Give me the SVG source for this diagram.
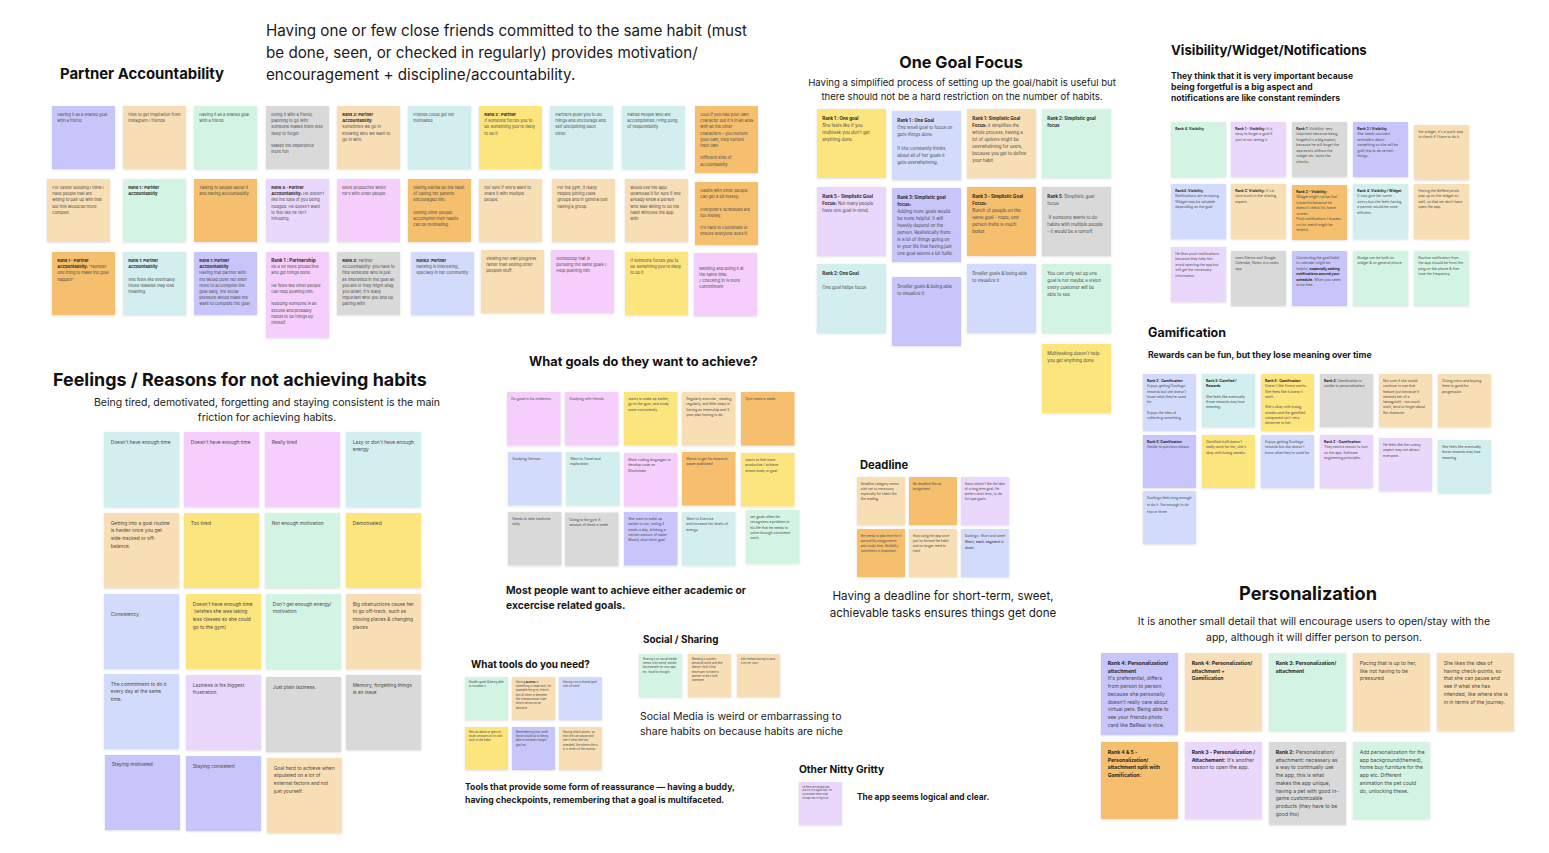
<svg xmlns="http://www.w3.org/2000/svg" width="1549" height="853" viewBox="0 0 1549 853">
<defs>
<filter id="sh" x="-10%" y="-10%" width="130%" height="130%"><feDropShadow dx="0" dy="0.8" stdDeviation="0.8" flood-color="#000" flood-opacity="0.13"/></filter>
<style>
text{font-family:Inter,"Liberation Sans",sans-serif}
rect.n{filter:url(#sh)}
.vi{fill:#C7C5FA}.pw{fill:#D3DBFC}.lo{fill:#F8DEB5}.or{fill:#F5BF6E}.lg{fill:#D3F4E2}.te{fill:#D2EEEE}.gr{fill:#D9D9D9}.ye{fill:#FDE57E}.pk{fill:#F5CEFB}.lp{fill:#E9D8FC}
.t{fill:#4a4a4a}
.b{font-weight:700;fill:#262626}
.h{font-weight:700;fill:#111}
.s{fill:#1a1a1a}
.sb{font-weight:700;fill:#1a1a1a}
.p{font-size:4.1px}.f{font-size:4.85px}.g{font-size:3.45px}.o{font-size:4.4px}.d{font-size:3.2px}.v{font-size:3.5px}.m{font-size:3.45px}.r{font-size:5.1px}.k{font-size:2.8px}.q{font-size:2.3px}
</style>
</defs>
<rect width="1549" height="853" fill="#ffffff"/>
<g id="connectors"/>

<!-- Partner Accountability -->
<g id="partner-header">
<text class="h" x="60" y="79" font-size="14.9">Partner Accountability</text>
<text class="s" x="266" y="36" font-size="15.2"><tspan>Having one or few close friends committed to the same habit (must</tspan><tspan x="266" dy="22">be done, seen, or checked in regularly) provides motivation/</tspan><tspan x="266" dy="22">encouragement + discipline/accountability.</tspan></text>
</g>
<g id="pa-1-1"><rect class="n vi" x="52" y="106" width="63" height="63"/><text class="t p" x="57.3" y="116"><tspan>Having it as a shared goal</tspan><tspan x="57.3" dy="6.2">with a friend</tspan></text></g>
<g id="pa-1-2"><rect class="n lo" x="123" y="106" width="63" height="63"/><text class="t p" x="128.3" y="116"><tspan>tries to get inspiration from</tspan><tspan x="128.3" dy="6.2">instagram / friends</tspan></text></g>
<g id="pa-1-3"><rect class="n lg" x="194" y="106" width="63" height="63"/><text class="t p" x="199.3" y="116"><tspan>Having it as a shared goal</tspan><tspan x="199.3" dy="6.2">with a friend</tspan></text></g>
<g id="pa-1-4"><rect class="n gr" x="266" y="106" width="63" height="63"/><text class="t p" x="271.3" y="116"><tspan>Doing it with a friend,</tspan><tspan x="271.3" dy="6.2">planning to go with</tspan><tspan x="271.3" dy="6.2">someone makes them less</tspan><tspan x="271.3" dy="6.2">likely to forget</tspan><tspan x="271.3" dy="12.4">Makes the experience</tspan><tspan x="271.3" dy="6.2">more fun</tspan></text></g>
<g id="pa-1-5"><rect class="n lo" x="337" y="106" width="63" height="63"/><text class="t p" x="342.3" y="116"><tspan class="b">Rank 3: Partner</tspan><tspan x="342.3" dy="6.2"><tspan class="b">Accountability</tspan>:</tspan><tspan x="342.3" dy="6.2">sometimes we go in</tspan><tspan x="342.3" dy="6.2">knowing who we want to</tspan><tspan x="342.3" dy="6.2">go in with.</tspan></text></g>
<g id="pa-1-6"><rect class="n te" x="408" y="106" width="63" height="63"/><text class="t p" x="413.3" y="116"><tspan>Friends could get her</tspan><tspan x="413.3" dy="6.2">motivated</tspan></text></g>
<g id="pa-1-7"><rect class="n ye" x="479" y="106" width="63" height="63"/><text class="t p" x="484.3" y="116"><tspan class="b">Rank 2 : Partner</tspan><tspan x="484.3" dy="6.2">If someone forces you to</tspan><tspan x="484.3" dy="6.2">do something you're likely</tspan><tspan x="484.3" dy="6.2">to do it.</tspan></text></g>
<g id="pa-1-8"><rect class="n te" x="550" y="106" width="63" height="63"/><text class="t p" x="555.3" y="116"><tspan>Partners push you to do</tspan><tspan x="555.3" dy="6.2">things and encourage and</tspan><tspan x="555.3" dy="6.2">self disciplining each</tspan><tspan x="555.3" dy="6.2">other.</tspan></text></g>
<g id="pa-1-9"><rect class="n te" x="622" y="106" width="63" height="63"/><text class="t p" x="627.3" y="116"><tspan>Paired People who are</tspan><tspan x="627.3" dy="6.2">accomplished / Ping pong</tspan><tspan x="627.3" dy="6.2">of responsibility.</tspan></text></g>
<g id="pa-1-10"><rect class="n or" x="695" y="106" width="63" height="67"/><text class="t p" x="700.3" y="116"><tspan>Cool if you had your own</tspan><tspan x="700.3" dy="6.2">character but it's in an area</tspan><tspan x="700.3" dy="6.2">with all the other</tspan><tspan x="700.3" dy="6.2">characters – you nurture</tspan><tspan x="700.3" dy="6.2">your own, they nurture</tspan><tspan x="700.3" dy="6.2">their own</tspan><tspan x="700.3" dy="12.4">Different kind of</tspan><tspan x="700.3" dy="6.2">accountability</tspan></text></g>

<g id="pa-2-1"><rect class="n lo" x="47" y="179" width="63" height="63"/><text class="t p" x="52.3" y="189"><tspan>For career building I think I</tspan><tspan x="52.3" dy="6.2">have people that are</tspan><tspan x="52.3" dy="6.2">willing to pair up with that</tspan><tspan x="52.3" dy="6.2">but this would be more</tspan><tspan x="52.3" dy="6.2">complex.</tspan></text></g>
<g id="pa-2-2"><rect class="n lg" x="123" y="179" width="63" height="63"/><text class="b p" x="128.3" y="189"><tspan>Rank 1 : Partner</tspan><tspan x="128.3" dy="6.2">Accountability</tspan></text></g>
<g id="pa-2-3"><rect class="n or" x="194" y="179" width="63" height="63"/><text class="t p" x="199.3" y="189"><tspan>Talking to people about it</tspan><tspan x="199.3" dy="6.2">and having accountability</tspan></text></g>
<g id="pa-2-4"><rect class="n lp" x="266" y="179" width="63" height="63"/><text class="t p" x="271.3" y="189"><tspan class="b">Rank 4 - Partner</tspan><tspan x="271.3" dy="6.2"><tspan class="b">Accountability:</tspan> He doesn't</tspan><tspan x="271.3" dy="6.2">like the idea of you being</tspan><tspan x="271.3" dy="6.2">nudged. He doesn't want</tspan><tspan x="271.3" dy="6.2">to feel like he isn't</tspan><tspan x="271.3" dy="6.2">intruding.</tspan></text></g>
<g id="pa-2-5"><rect class="n pk" x="337" y="179" width="63" height="63"/><text class="t p" x="342.3" y="189"><tspan>More productive when</tspan><tspan x="342.3" dy="6.2">he's with other people</tspan></text></g>
<g id="pa-2-6"><rect class="n or" x="408" y="179" width="63" height="63"/><text class="t p" x="413.3" y="189"><tspan>Seeing Karina do the habit</tspan><tspan x="413.3" dy="6.2">of calling her parents</tspan><tspan x="413.3" dy="6.2">encouraged him.</tspan><tspan x="413.3" dy="12.4">Seeing other people</tspan><tspan x="413.3" dy="6.2">accomplish their habits</tspan><tspan x="413.3" dy="6.2">can be motivating.</tspan></text></g>
<g id="pa-2-7"><rect class="n lo" x="479" y="179" width="63" height="63"/><text class="t p" x="484.3" y="189"><tspan>not sure if she'd want to</tspan><tspan x="484.3" dy="6.2">share it with multiple</tspan><tspan x="484.3" dy="6.2">people</tspan></text></g>
<g id="pa-2-8"><rect class="n lo" x="552" y="179" width="63" height="63"/><text class="t p" x="557.3" y="189"><tspan>For the gym, it really</tspan><tspan x="557.3" dy="6.2">helped joining class</tspan><tspan x="557.3" dy="6.2">groups and in general just</tspan><tspan x="557.3" dy="6.2">having a group.</tspan></text></g>
<g id="pa-2-9"><rect class="n lo" x="625" y="179" width="63" height="63"/><text class="t p" x="630.3" y="189"><tspan>would use the app/</tspan><tspan x="630.3" dy="6.2">download it for sure if she</tspan><tspan x="630.3" dy="6.2">already knew a person</tspan><tspan x="630.3" dy="6.2">who was willing to do the</tspan><tspan x="630.3" dy="6.2">habit with/use the app</tspan><tspan x="630.3" dy="6.2">with</tspan></text></g>
<g id="pa-2-10"><rect class="n or" x="695" y="182" width="63" height="63"/><text class="t p" x="700.3" y="192"><tspan>Habits with other people</tspan><tspan x="700.3" dy="6.2">can get a bit messy.</tspan><tspan x="700.3" dy="12.4">Everyone's schedules are</tspan><tspan x="700.3" dy="6.2">too messy.</tspan><tspan x="700.3" dy="12.4">It's hard to coordinate or</tspan><tspan x="700.3" dy="6.2">ensure everyone does it.</tspan></text></g>

<g id="pa-3-1"><rect class="n or" x="52" y="252" width="63" height="63"/><text class="t p" x="57.3" y="262"><tspan class="b">Rank 1 - Partner</tspan><tspan x="57.3" dy="6.2"><tspan class="b">Accountability:</tspan> "Number</tspan><tspan x="57.3" dy="6.2">one thing to make the goal</tspan><tspan x="57.3" dy="6.2">happen"</tspan></text></g>
<g id="pa-3-2"><rect class="n te" x="123" y="252" width="63" height="63"/><text class="t p" x="128.3" y="262"><tspan class="b">Rank 1: Partner</tspan><tspan class="b" x="128.3" dy="6.2">Accountability</tspan><tspan x="128.3" dy="12.4">She feels like eventually</tspan><tspan x="128.3" dy="6.2">those rewards may lose</tspan><tspan x="128.3" dy="6.2">meaning.</tspan></text></g>
<g id="pa-3-3"><rect class="n vi" x="194" y="252" width="63" height="63"/><text class="t p" x="199.3" y="262"><tspan class="b">Rank 1: Partner</tspan><tspan class="b" x="199.3" dy="6.2">Accountability</tspan><tspan x="199.3" dy="6.2">Having that partner with</tspan><tspan x="199.3" dy="6.2">me would push her even</tspan><tspan x="199.3" dy="6.2">more to accomplish the</tspan><tspan x="199.3" dy="6.2">goal daily, the social</tspan><tspan x="199.3" dy="6.2">pressure would make me</tspan><tspan x="199.3" dy="6.2">want to complete the goal</tspan></text></g>
<g id="pa-3-4"><rect class="n pk" x="266" y="252" width="63" height="86"/><text class="t p" x="271.3" y="262"><tspan class="b" font-size="4.6">Rank 1 : Partnership</tspan><tspan x="271.3" dy="6.2">Be a lot more productive</tspan><tspan x="271.3" dy="6.2">and get things done.</tspan><tspan x="271.3" dy="12.4">He feels like other people</tspan><tspan x="271.3" dy="6.2">can help pushing him.</tspan><tspan x="271.3" dy="12.4">Needing someone is an</tspan><tspan x="271.3" dy="6.2">excuse and probably</tspan><tspan x="271.3" dy="6.2">needs to do things by</tspan><tspan x="271.3" dy="6.2">himself.</tspan></text></g>
<g id="pa-3-5"><rect class="n gr" x="337" y="252" width="63" height="63"/><text class="t p" x="342.3" y="262"><tspan><tspan class="b">Rank 3:</tspan> Partner</tspan><tspan x="342.3" dy="6.2">Accountability: you have to</tspan><tspan x="342.3" dy="6.2">find someone who is just</tspan><tspan x="342.3" dy="6.2">as interested in the goal as</tspan><tspan x="342.3" dy="6.2">you are or they might drag</tspan><tspan x="342.3" dy="6.2">you down, it's really</tspan><tspan x="342.3" dy="6.2">important who you end up</tspan><tspan x="342.3" dy="6.2">pairing with</tspan></text></g>
<g id="pa-3-6"><rect class="n pw" x="411" y="252" width="63" height="63"/><text class="t p" x="416.3" y="262"><tspan class="b">Rank3 :Partner</tspan><tspan x="416.3" dy="6.2">Ranking is interesting,</tspan><tspan x="416.3" dy="6.2">specially in her community</tspan></text></g>
<g id="pa-3-7"><rect class="n lo" x="481" y="250" width="63" height="63"/><text class="t p" x="486.3" y="260"><tspan>viewing her own progress</tspan><tspan x="486.3" dy="6.2">rather than seeing other</tspan><tspan x="486.3" dy="6.2">peoples stuff.</tspan></text></g>
<g id="pa-3-8"><rect class="n pk" x="551" y="250" width="63" height="63"/><text class="t p" x="556.3" y="260"><tspan>Somebody that is</tspan><tspan x="556.3" dy="6.2">pursuing the same goals /</tspan><tspan x="556.3" dy="6.2">Help pushing him</tspan></text></g>
<g id="pa-3-9"><rect class="n ye" x="625" y="252" width="63" height="63"/><text class="t p" x="630.3" y="262"><tspan>If someone forces you to</tspan><tspan x="630.3" dy="6.2">do something you're likely</tspan><tspan x="630.3" dy="6.2">to do it</tspan></text></g>
<g id="pa-3-10"><rect class="n pk" x="694" y="253" width="63" height="63"/><text class="t p" x="699.3" y="269.5"><tspan>Meeting and doing it at</tspan><tspan x="699.3" dy="6.2">the same time.</tspan><tspan x="699.3" dy="6.2">/ Checking in is more</tspan><tspan x="699.3" dy="6.2">commitment</tspan></text></g>

<!-- Feelings -->
<g id="feelings-header">
<text class="h" x="53" y="386" font-size="17.9">Feelings / Reasons for not achieving habits</text>
<text class="s" x="267" y="406" font-size="10.5" text-anchor="middle"><tspan>Being tired, demotivated, forgetting and staying consistent is the main</tspan><tspan x="267" dy="15">friction for achieving habits.</tspan></text>
</g>
<g id="fe-1-1"><rect class="n te" x="104" y="432" width="75" height="75"/><text class="t f" x="110.7" y="443.7">Doesn't have enough time</text></g>
<g id="fe-1-2"><rect class="n pk" x="184" y="432" width="75" height="75"/><text class="t f" x="190.7" y="443.7">Doesn't have enough time</text></g>
<g id="fe-1-3"><rect class="n pk" x="265" y="432" width="75" height="75"/><text class="t f" x="271.7" y="443.7">Really tired</text></g>
<g id="fe-1-4"><rect class="n te" x="346" y="432" width="75" height="75"/><text class="t f" x="352.7" y="443.7"><tspan>Lazy or don't have enough</tspan><tspan x="352.7" dy="7.6">energy</tspan></text></g>
<g id="fe-2-1"><rect class="n lo" x="104" y="513" width="75" height="75"/><text class="t f" x="110.7" y="524.7"><tspan>Getting into a goal routine</tspan><tspan x="110.7" dy="7.6">is harder once you get</tspan><tspan x="110.7" dy="7.6">side-tracked or off-</tspan><tspan x="110.7" dy="7.6">balance.</tspan></text></g>
<g id="fe-2-2"><rect class="n ye" x="184" y="513" width="75" height="75"/><text class="t f" x="190.7" y="524.7">Too tired</text></g>
<g id="fe-2-3"><rect class="n lg" x="265" y="513" width="75" height="75"/><text class="t f" x="271.7" y="524.7">Not enough motivation</text></g>
<g id="fe-2-4"><rect class="n ye" x="346" y="513" width="75" height="75"/><text class="t f" x="352.7" y="524.7">Demotivated</text></g>
<g id="fe-3-1"><rect class="n pw" x="104" y="594" width="75" height="75"/><text class="t f" x="110.7" y="615.5">Consistency</text></g>
<g id="fe-3-2"><rect class="n ye" x="186" y="594" width="75" height="75"/><text class="t f" x="192.7" y="605.7"><tspan>Doesn't have enough time</tspan><tspan x="192.7" dy="7.6"> (wishes she was taking</tspan><tspan x="192.7" dy="7.6">less classes so she could</tspan><tspan x="192.7" dy="7.6">go to the gym)</tspan></text></g>
<g id="fe-3-3"><rect class="n lg" x="266" y="594" width="75" height="75"/><text class="t f" x="272.7" y="605.7"><tspan>Don't get enough energy/</tspan><tspan x="272.7" dy="7.6">motivation</tspan></text></g>
<g id="fe-3-4"><rect class="n lo" x="346" y="594" width="75" height="75"/><text class="t f" x="352.7" y="605.7"><tspan>Big obstructions cause her</tspan><tspan x="352.7" dy="7.6">to go off-track, such as</tspan><tspan x="352.7" dy="7.6">moving places &amp; changing</tspan><tspan x="352.7" dy="7.6">places</tspan></text></g>
<g id="fe-4-1"><rect class="n pw" x="104" y="674" width="75" height="75"/><text class="t f" x="110.7" y="685.7"><tspan>The commitment to do it</tspan><tspan x="110.7" dy="7.6">every day at the same</tspan><tspan x="110.7" dy="7.6">time.</tspan></text></g>
<g id="fe-4-2"><rect class="n lp" x="186" y="675" width="75" height="75"/><text class="t f" x="192.7" y="686.7"><tspan>Laziness is his biggest</tspan><tspan x="192.7" dy="7.6">frustration.</tspan></text></g>
<g id="fe-4-3"><rect class="n gr" x="266" y="677" width="75" height="75"/><text class="t f" x="272.7" y="688.7">Just plain laziness.</text></g>
<g id="fe-4-4"><rect class="n gr" x="346" y="675" width="75" height="75"/><text class="t f" x="352.7" y="686.7"><tspan>Memory, forgetting things</tspan><tspan x="352.7" dy="7.6">is an issue</tspan></text></g>
<g id="fe-5-1"><rect class="n vi" x="105" y="755" width="75" height="75"/><text class="t f" x="111.7" y="766">Staying motivated</text></g>
<g id="fe-5-2"><rect class="n vi" x="186" y="756" width="75" height="75"/><text class="t f" x="192.7" y="767.5">Staying consistent</text></g>
<g id="fe-5-3"><rect class="n lo" x="267" y="758" width="75" height="75"/><text class="t f" x="273.7" y="769.7"><tspan>Goal hard to achieve when</tspan><tspan x="273.7" dy="7.6">stipulated on a lot of</tspan><tspan x="273.7" dy="7.6">external factors and not</tspan><tspan x="273.7" dy="7.6">just yourself.</tspan></text></g>

<!-- Goals -->
<g id="goals-header">
<text class="h" x="529" y="366" font-size="12.8">What goals do they want to achieve?</text>
<text class="sb" x="506" y="594" font-size="10.3"><tspan>Most people want to achieve either academic or</tspan><tspan x="506" dy="15">excercise related goals.</tspan></text>
</g>
<g id="go-1-1"><rect class="n pk" x="507" y="392" width="53.5" height="53.5"/><text class="t g" x="511.3" y="400">Do good in his midterms</text></g>
<g id="go-1-2"><rect class="n pk" x="565" y="392" width="53.5" height="53.5"/><text class="t g" x="569.3" y="400">Studying with friends</text></g>
<g id="go-1-3"><rect class="n ye" x="624" y="392" width="53.5" height="53.5"/><text class="t g" x="628.3" y="400"><tspan>wants to wake up earlier,</tspan><tspan x="628.3" dy="5.35">go to the gym, and study</tspan><tspan x="628.3" dy="5.35">more consistently</tspan></text></g>
<g id="go-1-4"><rect class="n lo" x="682" y="392" width="53.5" height="53.5"/><text class="t g" x="686.3" y="400"><tspan>Regularly exercise , reading</tspan><tspan x="686.3" dy="5.35">regularly, and little steps in</tspan><tspan x="686.3" dy="5.35">having an internship and 5</tspan><tspan x="686.3" dy="5.35">year plan having to do.</tspan></text></g>
<g id="go-1-5"><rect class="n or" x="741" y="392" width="53.5" height="53.5"/><text class="t g" x="745.3" y="400">Gym twice a week.</text></g>
<g id="go-2-1"><rect class="n pw" x="508" y="452" width="53.5" height="53.5"/><text class="t g" x="512.3" y="460">Studying German</text></g>
<g id="go-2-2"><rect class="n te" x="566" y="452" width="53.5" height="53.5"/><text class="t g" x="570.3" y="460"><tspan>Want to Travel and</tspan><tspan x="570.3" dy="5.35">exploration</tspan></text></g>
<g id="go-2-3"><rect class="n pk" x="624" y="453" width="53.5" height="53.5"/><text class="t g" x="628.3" y="461"><tspan>More coding languages to</tspan><tspan x="628.3" dy="5.35">develop code on</tspan><tspan x="628.3" dy="5.35">Blockchain</tspan></text></g>
<g id="go-2-4"><rect class="n or" x="682" y="452" width="53.5" height="53.5"/><text class="t g" x="686.3" y="460"><tspan>Wants to get his research</tspan><tspan x="686.3" dy="5.35">paper published</tspan></text></g>
<g id="go-2-5"><rect class="n ye" x="741" y="453" width="53.5" height="53.5"/><text class="t g" x="745.3" y="461"><tspan>wants to feel more</tspan><tspan x="745.3" dy="5.35">productive / achieve</tspan><tspan x="745.3" dy="5.35">dream body or goal</tspan></text></g>
<g id="go-3-1"><rect class="n gr" x="508" y="512" width="53.5" height="53.5"/><text class="t g" x="512.3" y="520"><tspan>Needs to take medicine</tspan><tspan x="512.3" dy="5.35">daily</tspan></text></g>
<g id="go-3-2"><rect class="n gr" x="565" y="512.5" width="53.5" height="53.5"/><text class="t g" x="569.3" y="520.5"><tspan>Going to the gym X</tspan><tspan x="569.3" dy="5.35">amount of times a week</tspan></text></g>
<g id="go-3-3"><rect class="n vi" x="624" y="512" width="53.5" height="53.5"/><text class="t g" x="628.3" y="520"><tspan>She want to wake up</tspan><tspan x="628.3" dy="5.35">earlier to run, eating 3</tspan><tspan x="628.3" dy="5.35">meals a day, drinking a</tspan><tspan x="628.3" dy="5.35">certain amount of water</tspan><tspan x="628.3" dy="5.35">Mostly short term goal</tspan></text></g>
<g id="go-3-4"><rect class="n te" x="682" y="512" width="53.5" height="53.5"/><text class="t g" x="686.3" y="520"><tspan>Want to Exercise</tspan><tspan x="686.3" dy="5.35">and increase her levels of</tspan><tspan x="686.3" dy="5.35">energy.</tspan></text></g>
<g id="go-3-5"><rect class="n lg" x="746" y="510" width="53.5" height="53.5"/><text class="t g" x="750.3" y="518"><tspan>set goals when he</tspan><tspan x="750.3" dy="5.35">recognizes a problem in</tspan><tspan x="750.3" dy="5.35">his life that he needs to</tspan><tspan x="750.3" dy="5.35">solve through consistent</tspan><tspan x="750.3" dy="5.35">work.</tspan></text></g>

<!-- Tools -->
<g id="tools-header">
<text class="h" x="471" y="668" font-size="9.9">What tools do you need?</text>
<text class="sb" x="465" y="790" font-size="8.7"><tspan>Tools that provide some form of reassurance — having a buddy,</tspan><tspan x="465" dy="13">having checkpoints, remembering that a goal is multifaceted.</tspan></text>
</g>
<g id="to-1-1"><rect class="n lg" x="465" y="677" width="43" height="43"/><text class="t k" x="468.7" y="682.8"><tspan>Smaller goals &amp; being able</tspan><tspan x="468.7" dy="4.3">to visualize it</tspan></text></g>
<g id="to-1-2"><rect class="n lo" x="512" y="677" width="43" height="43"/><text class="t k" x="515.7" y="682.8"><tspan>Having <tspan class="b">access</tspan> is</tspan><tspan x="515.7" dy="4.3">something is important, for</tspan><tspan x="515.7" dy="4.3">example the gym, there's</tspan><tspan x="515.7" dy="4.3">lots of times in between</tspan><tspan x="515.7" dy="4.3">like transportation type</tspan><tspan x="515.7" dy="4.3">which serves as an</tspan><tspan x="515.7" dy="4.3">obstacle.</tspan></text></g>
<g id="to-1-3"><rect class="n pw" x="559" y="677" width="43" height="43"/><text class="t k" x="562.7" y="682.8"><tspan>Having it as a shared goal</tspan><tspan x="562.7" dy="4.3">with a friend</tspan></text></g>
<g id="to-2-1"><rect class="n ye" x="465" y="727" width="43" height="43"/><text class="t k" x="468.7" y="732.8"><tspan>Sets an alarm or goes to</tspan><tspan x="468.7" dy="4.3">study sessions to try and</tspan><tspan x="468.7" dy="4.3">stick to the habit</tspan></text></g>
<g id="to-2-2"><rect class="n vi" x="512" y="727" width="43" height="43"/><text class="t k" x="515.7" y="732.8"><tspan>Remembering that small</tspan><tspan x="515.7" dy="4.3">factors build up to being</tspan><tspan x="515.7" dy="4.3">able to achieve a larger</tspan><tspan x="515.7" dy="4.3">goal etc.</tspan></text></g>
<g id="to-2-3"><rect class="n lo" x="559" y="727" width="43" height="43"/><text class="t k" x="562.7" y="732.8"><tspan>Having check-points, so</tspan><tspan x="562.7" dy="4.3">that she can pause and</tspan><tspan x="562.7" dy="4.3">see if what she has</tspan><tspan x="562.7" dy="4.3">intended, like where she is</tspan><tspan x="562.7" dy="4.3">in in terms of the journey</tspan></text></g>

<!-- Social -->
<g id="social-header">
<text class="h" x="643" y="643" font-size="9.9">Social / Sharing</text>
<text class="s" x="640" y="720" font-size="10.5"><tspan>Social Media is weird or embarrassing to</tspan><tspan x="640" dy="15">share habits on because habits are niche</tspan></text>
</g>
<g id="so-1"><rect class="n lg" x="639" y="654" width="43" height="43"/><text class="t k" x="642.7" y="659.8"><tspan>Sharing it on social media</tspan><tspan x="642.7" dy="4.3">seems a bit weird, maybe</tspan><tspan x="642.7" dy="4.3">have people on your app</tspan><tspan x="642.7" dy="4.3">etc. food for thought</tspan></text></g>
<g id="so-2"><rect class="n lo" x="688" y="654" width="43" height="43"/><text class="t k" x="691.7" y="659.8"><tspan>Reading is a pretty</tspan><tspan x="691.7" dy="4.3">personal niche and she</tspan><tspan x="691.7" dy="4.3">doesn't find it that</tspan><tspan x="691.7" dy="4.3">necessary to have a</tspan><tspan x="691.7" dy="4.3">partner to do it with</tspan><tspan x="691.7" dy="4.3">someone</tspan></text></g>
<g id="so-3"><rect class="n lo" x="737" y="654" width="43" height="43"/><text class="t k" x="740.7" y="659.8"><tspan>a bit embarrassing to post</tspan><tspan x="740.7" dy="4.3">it on my story</tspan></text></g>

<!-- One Goal Focus -->
<g id="onegoal-header">
<text class="h" x="961" y="68" font-size="16.2" text-anchor="middle">One Goal Focus</text>
<text class="s" x="962" y="86" font-size="9.6" text-anchor="middle"><tspan>Having a simplified process of setting up the goal/habit is useful but</tspan><tspan x="962" dy="14">there should not be a hard restriction on the number of habits.</tspan></text>
</g>
<g id="og-1-1"><rect class="n ye" x="817" y="109" width="69" height="69"/><text class="t o" x="822.3" y="119.5"><tspan class="b">Rank 1 : One goal</tspan><tspan x="822.3" dy="7">She feels like if you</tspan><tspan x="822.3" dy="7">multitask you don't get</tspan><tspan x="822.3" dy="7">anything done.</tspan></text></g>
<g id="og-1-2"><rect class="n pw" x="892" y="111" width="69" height="69"/><text class="t o" x="897.3" y="121.5"><tspan class="b">Rank 1 : One Goal</tspan><tspan x="897.3" dy="7">One small goal to focus on</tspan><tspan x="897.3" dy="7">gets things done.</tspan><tspan x="897.3" dy="14">If she constantly thinks</tspan><tspan x="897.3" dy="7">about all of her goals it</tspan><tspan x="897.3" dy="7">gets overwhelming.</tspan></text></g>
<g id="og-1-3"><rect class="n lo" x="967" y="109" width="69" height="69"/><text class="t o" x="972.3" y="119.5"><tspan class="b">Rank 1: Simplistic Goal</tspan><tspan x="972.3" dy="7"><tspan class="b">Focus:</tspan> it simplifies the</tspan><tspan x="972.3" dy="7">whole process, having a</tspan><tspan x="972.3" dy="7">lot of options might be</tspan><tspan x="972.3" dy="7">overwhelming for users,</tspan><tspan x="972.3" dy="7">because you get to define</tspan><tspan x="972.3" dy="7">your habit</tspan></text></g>
<g id="og-1-4"><rect class="n lg" x="1042" y="109" width="69" height="69"/><text class="b o" x="1047.3" y="119.5"><tspan>Rank 2: Simplistic goal</tspan><tspan x="1047.3" dy="7">focus</tspan></text></g>
<g id="og-2-1"><rect class="n lp" x="817" y="187" width="69" height="69"/><text class="t o" x="822.3" y="197.5"><tspan class="b">Rank 5 - Simplistic Goal</tspan><tspan x="822.3" dy="7"><tspan class="b">Focus:</tspan> Not many people</tspan><tspan x="822.3" dy="7">have one goal in mind.</tspan></text></g>
<g id="og-2-2"><rect class="n vi" x="892" y="188" width="69" height="74"/><text class="t o" x="897.3" y="199"><tspan class="b">Rank 3: Simplistic goal</tspan><tspan class="b" x="897.3" dy="7">focus:</tspan><tspan x="897.3" dy="7">Adding more goals would</tspan><tspan x="897.3" dy="7">be more helpful. It will</tspan><tspan x="897.3" dy="7">heavily depend on the</tspan><tspan x="897.3" dy="7">person. Realistically there</tspan><tspan x="897.3" dy="7">is a lot of things going on</tspan><tspan x="897.3" dy="7">in your life that having just</tspan><tspan x="897.3" dy="7">one goal seems a bit futile.</tspan></text></g>
<g id="og-2-3"><rect class="n or" x="967" y="187" width="69" height="69"/><text class="t o" x="972.3" y="197.5"><tspan class="b">Rank 3 - Simplistic Goal</tspan><tspan class="b" x="972.3" dy="7">Focus:</tspan><tspan x="972.3" dy="7">Bunch of people on the</tspan><tspan x="972.3" dy="7">same goal - nope, one</tspan><tspan x="972.3" dy="7">person invite is much</tspan><tspan x="972.3" dy="7">better.</tspan></text></g>
<g id="og-2-4"><rect class="n gr" x="1042" y="187" width="69" height="69"/><text class="t o" x="1047.3" y="197.5"><tspan><tspan class="b">Rank 5</tspan>: Simplistic goal</tspan><tspan x="1047.3" dy="7">focus</tspan><tspan x="1047.3" dy="14"> If someone wants to do</tspan><tspan x="1047.3" dy="7">habits with multiple people</tspan><tspan x="1047.3" dy="7">- it would be a turnoff.</tspan></text></g>
<g id="og-3-1"><rect class="n te" x="817" y="264" width="69" height="69"/><text class="t o" x="822.3" y="274.5"><tspan class="b">Rank 2: One Goal</tspan><tspan x="822.3" dy="14">One goal helps focus</tspan></text></g>
<g id="og-3-2"><rect class="n vi" x="892" y="277" width="69" height="69"/><text class="t o" x="897.3" y="287.5"><tspan>Smaller goals &amp; being able</tspan><tspan x="897.3" dy="7">to visualize it</tspan></text></g>
<g id="og-3-3"><rect class="n pw" x="967" y="264" width="69" height="69"/><text class="t o" x="972.3" y="274.5"><tspan>Smaller goals &amp; being able</tspan><tspan x="972.3" dy="7">to visualize it</tspan></text></g>
<g id="og-3-4"><rect class="n lg" x="1042" y="264" width="69" height="69"/><text class="t o" x="1047.3" y="274.5"><tspan>You can only set up one</tspan><tspan x="1047.3" dy="7">goal is not maybe a vision</tspan><tspan x="1047.3" dy="7">every customer will be</tspan><tspan x="1047.3" dy="7">able to see</tspan></text></g>
<g id="og-4-4"><rect class="n ye" x="1042" y="344" width="69" height="69"/><text class="t o" x="1047.3" y="354.5"><tspan>Multitasking doesn't help</tspan><tspan x="1047.3" dy="7">you get anything done</tspan></text></g>

<!-- Deadline -->
<g id="deadline-header">
<text class="h" x="860" y="469" font-size="11.2">Deadline</text>
<text class="s" x="943" y="600" font-size="11.6" text-anchor="middle"><tspan>Having a deadline for short-term, sweet,</tspan><tspan x="943" dy="17">achievable tasks ensures things get done</tspan></text>
</g>
<g id="dl-1-1"><rect class="n lo" x="857" y="477" width="48" height="48"/><text class="t d" x="860.7" y="484.8"><tspan>Deadline category seems</tspan><tspan x="860.7" dy="5">a bit not so necessary</tspan><tspan x="860.7" dy="5">especially for habits like</tspan><tspan x="860.7" dy="5">like reading.</tspan></text></g>
<g id="dl-1-2"><rect class="n or" x="909" y="477" width="48" height="48"/><text class="t d" x="912.7" y="484.8"><tspan>No deadline like an</tspan><tspan x="912.7" dy="5">assignment</tspan></text></g>
<g id="dl-1-3"><rect class="n lp" x="961" y="477" width="48" height="48"/><text class="t d" x="964.7" y="484.8"><tspan>Aaron doesn't like the idea</tspan><tspan x="964.7" dy="5">of a long term goal. He</tspan><tspan x="964.7" dy="5">prefers short term, to-do</tspan><tspan x="964.7" dy="5">list type goals.</tspan></text></g>
<g id="dl-2-1"><rect class="n or" x="857" y="529" width="48" height="48"/><text class="t d" x="860.7" y="536.8"><tspan>He needs to plan time for it</tspan><tspan x="860.7" dy="5">around his assignments</tspan><tspan x="860.7" dy="5">and study time, flexibility</tspan><tspan x="860.7" dy="5">sometimes is important</tspan></text></g>
<g id="dl-2-2"><rect class="n lo" x="909" y="529" width="48" height="48"/><text class="t d" x="912.7" y="536.8"><tspan>Stop using the app once</tspan><tspan x="912.7" dy="5">you've formed the habit</tspan><tspan x="912.7" dy="5">and no longer need to</tspan><tspan x="912.7" dy="5">track</tspan></text></g>
<g id="dl-2-3"><rect class="n pw" x="961" y="529" width="48" height="48"/><text class="t d" x="964.7" y="536.8"><tspan>Duolingo : Short and sweet</tspan><tspan x="964.7" dy="6" font-size="3.6" fill="#222">Short, each segment is</tspan><tspan x="964.7" dy="6" font-size="3.6" fill="#222">short.</tspan></text></g>

<!-- Visibility -->
<g id="visibility-header">
<text class="h" x="1171" y="55" font-size="13.2">Visibility/Widget/Notifications</text>
<text class="sb" x="1171" y="79" font-size="8.6"><tspan>They think that it is very important because</tspan><tspan x="1171" dy="11">being forgetful is a big aspect and</tspan><tspan x="1171" dy="11">notifications are like constant reminders</tspan></text>
</g>
<g id="vi-1-1"><rect class="n lg" x="1171" y="122" width="55" height="55"/><text class="b v" x="1175.3" y="129.9">Rank 4: Visibility</text></g>
<g id="vi-1-2"><rect class="n lp" x="1231" y="122" width="55" height="55"/><text class="t v" x="1235.3" y="129.9"><tspan><tspan class="b">Rank 1 - Visibility:</tspan> It is</tspan><tspan x="1235.3" dy="5.5">easy to forget a goal if</tspan><tspan x="1235.3" dy="5.5">you're not seeing it.</tspan></text></g>
<g id="vi-1-3"><rect class="n gr" x="1292" y="122" width="55" height="55"/><text class="t v" x="1296.3" y="129.9"><tspan><tspan class="b">Rank 1:</tspan> Visibility: very</tspan><tspan x="1296.3" dy="5.5">important because being</tspan><tspan x="1296.3" dy="5.5">forgetful is a big aspect,</tspan><tspan x="1296.3" dy="5.5">because he will forget the</tspan><tspan x="1296.3" dy="5.5">app exists without the</tspan><tspan x="1296.3" dy="5.5">widget etc. loves the</tspan><tspan x="1296.3" dy="5.5">checks.</tspan></text></g>
<g id="vi-1-4"><rect class="n vi" x="1353" y="122" width="55" height="55"/><text class="t v" x="1357.3" y="129.9"><tspan class="b">Rank 2 / Visibility</tspan><tspan x="1357.3" dy="5.5">She needs constant</tspan><tspan x="1357.3" dy="5.5">reminders about</tspan><tspan x="1357.3" dy="5.5">something so she will be</tspan><tspan x="1357.3" dy="5.5">guilt-trip to do certain</tspan><tspan x="1357.3" dy="5.5">things.</tspan></text></g>
<g id="vi-1-5"><rect class="n lo" x="1414" y="125" width="55" height="55"/><text class="t v" x="1418.3" y="132.9"><tspan>the widget, it's a quick way</tspan><tspan x="1418.3" dy="5.5">to check if I have to do it.</tspan></text></g>
<g id="vi-2-1"><rect class="n pw" x="1171" y="184" width="55" height="55"/><text class="t v" x="1175.3" y="191.9"><tspan class="b">Rank4 :Visibility</tspan><tspan x="1175.3" dy="5.5">Notifications are annoying.</tspan><tspan x="1175.3" dy="5.5">Widget may be valuable</tspan><tspan x="1175.3" dy="5.5">depending on the goal</tspan></text></g>
<g id="vi-2-2"><rect class="n lo" x="1231" y="184" width="55" height="55"/><text class="t v" x="1235.3" y="191.9"><tspan><tspan class="b">Rank 2: Visibility:</tspan> It's a</tspan><tspan x="1235.3" dy="5.5">nice touch in the sharing</tspan><tspan x="1235.3" dy="5.5">aspect.</tspan></text></g>
<g id="vi-2-3"><rect class="n or" x="1292" y="185" width="55" height="55"/><text class="t v" x="1296.3" y="192.9"><tspan class="b">Rank 2 - Visibility:</tspan><tspan x="1296.3" dy="5.5">Widget might not be that</tspan><tspan x="1296.3" dy="5.5">impactful because he</tspan><tspan x="1296.3" dy="5.5">doesn't check his home</tspan><tspan x="1296.3" dy="5.5">screen.</tspan><tspan x="1296.3" dy="5.5">Push notifications / buzzes</tspan><tspan x="1296.3" dy="5.5">on his watch might be</tspan><tspan x="1296.3" dy="5.5">helpful.</tspan></text></g>
<g id="vi-2-4"><rect class="n te" x="1353" y="184" width="55" height="55"/><text class="t v" x="1357.3" y="191.9"><tspan class="b">Rank 4: Visibility / Widget</tspan><tspan x="1357.3" dy="5.5">It may give her some</tspan><tspan x="1357.3" dy="5.5">stress but she feels having</tspan><tspan x="1357.3" dy="5.5">a partner would be more</tspan><tspan x="1357.3" dy="5.5">efficient.</tspan></text></g>
<g id="vi-2-5"><rect class="n lo" x="1414" y="184" width="55" height="55"/><text class="t v" x="1418.3" y="191.9"><tspan>Having the BeReal photo</tspan><tspan x="1418.3" dy="5.5">pop up on the widget as</tspan><tspan x="1418.3" dy="5.5">well, so that we don't have</tspan><tspan x="1418.3" dy="5.5">open the app.</tspan></text></g>
<g id="vi-3-1"><rect class="n lp" x="1171" y="247" width="55" height="55"/><text class="t v" x="1175.3" y="254.9"><tspan>He likes push notifications</tspan><tspan x="1175.3" dy="5.5">because they help him</tspan><tspan x="1175.3" dy="5.5">avoid opening the app but</tspan><tspan x="1175.3" dy="5.5">still get the necessary</tspan><tspan x="1175.3" dy="5.5">information.</tspan></text></g>
<g id="vi-3-2"><rect class="n gr" x="1231" y="251" width="55" height="55"/><text class="t v" x="1235.3" y="258.9"><tspan>uses Alarms and Google</tspan><tspan x="1235.3" dy="5.5">Calendar, Notes in a notes</tspan><tspan x="1235.3" dy="5.5">app</tspan></text></g>
<g id="vi-3-3"><rect class="n vi" x="1292" y="251" width="55" height="55"/><text class="t v" x="1296.3" y="258.9"><tspan>Connecting the goal/habit</tspan><tspan x="1296.3" dy="5.5">to calendar might be</tspan><tspan x="1296.3" dy="5.5">helpful, <tspan class="b">especially setting</tspan></tspan><tspan class="b" x="1296.3" dy="5.5">notifications around your</tspan><tspan x="1296.3" dy="5.5"><tspan class="b">schedule.</tspan> When you seem</tspan><tspan x="1296.3" dy="5.5">to be free.</tspan></text></g>
<g id="vi-3-4"><rect class="n lg" x="1353" y="251" width="55" height="55"/><text class="t v" x="1357.3" y="258.9"><tspan>Nudge can be both on</tspan><tspan x="1357.3" dy="5.5">widget &amp; on general phone</tspan></text></g>
<g id="vi-3-5"><rect class="n lg" x="1414" y="251" width="55" height="55"/><text class="t v" x="1418.3" y="258.9"><tspan>Routine notification from</tspan><tspan x="1418.3" dy="5.5">the app should be from the</tspan><tspan x="1418.3" dy="5.5">ping on the phone &amp; fine-</tspan><tspan x="1418.3" dy="5.5">tune the frequency</tspan></text></g>

<!-- Gamification -->
<g id="gamification-header">
<text class="h" x="1148" y="337" font-size="12.5">Gamification</text>
<text class="sb" x="1148" y="358" font-size="8.7">Rewards can be fun, but they lose meaning over time</text>
</g>
<g id="ga-1-1"><rect class="n pw" x="1143" y="374" width="53" height="57"/><text class="t m" x="1147" y="381.9"><tspan class="b">Rank 2 : Gamification</tspan><tspan x="1147" dy="5.3">Enjoys getting Duolingo</tspan><tspan x="1147" dy="5.3">rewards but she doesn't</tspan><tspan x="1147" dy="5.3">know what they're used</tspan><tspan x="1147" dy="5.3">for</tspan><tspan x="1147" dy="10.6">Enjoys the idea of</tspan><tspan x="1147" dy="5.3">collecting something</tspan></text></g>
<g id="ga-1-2"><rect class="n te" x="1202" y="374" width="53" height="53"/><text class="t m" x="1206" y="381.9"><tspan class="b">Rank 5: Gamified /</tspan><tspan class="b" x="1206" dy="5.3">Rewards</tspan><tspan x="1206" dy="10.6">She feels like eventually</tspan><tspan x="1206" dy="5.3">those rewards may lose</tspan><tspan x="1206" dy="5.3">meaning.</tspan></text></g>
<g id="ga-1-3"><rect class="n ye" x="1261" y="374" width="53" height="57"/><text class="t m" x="1265" y="381.9"><tspan class="b">Rank 5 : Gamification</tspan><tspan x="1265" dy="5.3">Doesn't like Forest works.</tspan><tspan x="1265" dy="5.3">She feels like it doesn't</tspan><tspan x="1265" dy="5.3">work.</tspan><tspan x="1265" dy="10.6">She's okay with losing</tspan><tspan x="1265" dy="5.3">streaks and the gamified</tspan><tspan x="1265" dy="5.3">component isn't very</tspan><tspan x="1265" dy="5.3">attractive to her.</tspan></text></g>
<g id="ga-1-4"><rect class="n gr" x="1320" y="374" width="53" height="53"/><text class="t m" x="1324" y="381.9"><tspan><tspan class="b">Rank 4:</tspan> Gamification is</tspan><tspan x="1324" dy="5.3">similar to personalization</tspan></text></g>
<g id="ga-1-5"><rect class="n lo" x="1379" y="374" width="53" height="53"/><text class="t m" x="1383" y="381.9"><tspan>Not sure if she would</tspan><tspan x="1383" dy="5.3">continue to use that</tspan><tspan x="1383" dy="5.3">feature just because it</tspan><tspan x="1383" dy="5.3">reminds her of a</tspan><tspan x="1383" dy="5.3">tamagotchi - too much</tspan><tspan x="1383" dy="5.3">work, tend to forget about</tspan><tspan x="1383" dy="5.3">the character</tspan></text></g>
<g id="ga-1-6"><rect class="n lo" x="1438" y="374" width="53" height="53"/><text class="t m" x="1442" y="381.9"><tspan>Giving coins and buying</tspan><tspan x="1442" dy="5.3">them is good for</tspan><tspan x="1442" dy="5.3">progression</tspan></text></g>
<g id="ga-2-1"><rect class="n vi" x="1143" y="435" width="53" height="53"/><text class="t m" x="1147" y="442.9"><tspan class="b">Rank 5: Gamification</tspan><tspan x="1147" dy="5.3">Similar to previous reason</tspan></text></g>
<g id="ga-2-2"><rect class="n ye" x="1202" y="435" width="53" height="53"/><text class="t m" x="1206" y="442.9"><tspan>Gamified stuff doesn't</tspan><tspan x="1206" dy="5.3">really work for her, she's</tspan><tspan x="1206" dy="5.3">okay with losing streaks</tspan></text></g>
<g id="ga-2-3"><rect class="n pw" x="1261" y="435" width="53" height="53"/><text class="t m" x="1265" y="442.9"><tspan>Enjoys getting Duolingo</tspan><tspan x="1265" dy="5.3">rewards but she doesn't</tspan><tspan x="1265" dy="5.3">know what they're used for</tspan></text></g>
<g id="ga-2-4"><rect class="n lp" x="1320" y="435" width="53" height="53"/><text class="t m" x="1324" y="442.9"><tspan class="b">Rank 2 - Gamification:</tspan><tspan x="1324" dy="5.3">They need a reason to turn</tspan><tspan x="1324" dy="5.3">on the app. Software</tspan><tspan x="1324" dy="5.3">engineering principles.</tspan></text></g>
<g id="ga-2-5"><rect class="n lp" x="1379" y="438" width="53" height="53"/><text class="t m" x="1383" y="445.9"><tspan>He feels like the cutesy</tspan><tspan x="1383" dy="5.3">aspect may not attract</tspan><tspan x="1383" dy="5.3">everyone.</tspan></text></g>
<g id="ga-2-6"><rect class="n te" x="1438" y="440" width="53" height="53"/><text class="t m" x="1442" y="447.9"><tspan>She feels like eventually</tspan><tspan x="1442" dy="5.3">those rewards may lose</tspan><tspan x="1442" dy="5.3">meaning.</tspan></text></g>
<g id="ga-3-1"><rect class="n pw" x="1143" y="491" width="53" height="53"/><text class="t m" x="1147" y="498.9"><tspan>Duolingo feels long enough</tspan><tspan x="1147" dy="7.5">to do it. Fun enough to do</tspan><tspan x="1147" dy="7">two or three</tspan></text></g>

<!-- Personalization -->
<g id="personalization-header">
<text class="h" x="1308" y="600" font-size="18.2" text-anchor="middle">Personalization</text>
<text class="s" x="1314" y="625" font-size="10.5" text-anchor="middle"><tspan>It is another small detail that will encourage users to open/stay with the</tspan><tspan x="1314" dy="16">app, although it will differ person to person.</tspan></text>
</g>
<g id="pe-1-1"><rect class="n vi" x="1101" y="653" width="77" height="82"/><text class="t r" x="1107.7" y="665"><tspan class="b">Rank 4: Personalization/</tspan><tspan class="b" x="1107.7" dy="7.7">attachment</tspan><tspan x="1107.7" dy="7.7">It's preferential, differs</tspan><tspan x="1107.7" dy="7.7">from person to person</tspan><tspan x="1107.7" dy="7.7">because she personally</tspan><tspan x="1107.7" dy="7.7">doesn't really care about</tspan><tspan x="1107.7" dy="7.7">virtual pets. Being able to</tspan><tspan x="1107.7" dy="7.7">see your friends photo</tspan><tspan x="1107.7" dy="7.7">card like BeReal is nice.</tspan></text></g>
<g id="pe-1-2"><rect class="n lo" x="1185" y="653" width="77" height="78"/><text class="b r" x="1191.7" y="665"><tspan>Rank 4: Personalization/</tspan><tspan x="1191.7" dy="7.7">attachment +</tspan><tspan x="1191.7" dy="7.7">Gamification</tspan></text></g>
<g id="pe-1-3"><rect class="n lg" x="1269" y="653" width="77" height="78"/><text class="b r" x="1275.7" y="665"><tspan>Rank 3: Personalization/</tspan><tspan x="1275.7" dy="7.7">attachment</tspan></text></g>
<g id="pe-1-4"><rect class="n lo" x="1353" y="653" width="77" height="78"/><text class="t r" x="1359.7" y="665"><tspan>Pacing that is up to her,</tspan><tspan x="1359.7" dy="7.7">like not having to be</tspan><tspan x="1359.7" dy="7.7">pressured</tspan></text></g>
<g id="pe-1-5"><rect class="n lo" x="1437" y="653" width="77" height="78"/><text class="t r" x="1443.7" y="665"><tspan>She likes the idea of</tspan><tspan x="1443.7" dy="7.7">having check-points, so</tspan><tspan x="1443.7" dy="7.7">that she can pause and</tspan><tspan x="1443.7" dy="7.7">see if what she has</tspan><tspan x="1443.7" dy="7.7">intended, like where she is</tspan><tspan x="1443.7" dy="7.7">in in terms of the journey.</tspan></text></g>
<g id="pe-2-1"><rect class="n or" x="1101" y="742" width="77" height="77"/><text class="b r" x="1107.7" y="754"><tspan>Rank 4 &amp; 5 -</tspan><tspan x="1107.7" dy="7.7">Personalization/</tspan><tspan x="1107.7" dy="7.7">attachment split with</tspan><tspan x="1107.7" dy="7.7">Gamification:</tspan></text></g>
<g id="pe-2-2"><rect class="n lp" x="1185" y="742" width="77" height="77"/><text class="t r" x="1191.7" y="754"><tspan class="b">Rank 3 - Personalization /</tspan><tspan x="1191.7" dy="7.7"><tspan class="b">Attachement:</tspan> It's another</tspan><tspan x="1191.7" dy="7.7">reason to open the app.</tspan></text></g>
<g id="pe-2-3"><rect class="n gr" x="1269" y="742" width="77" height="83"/><text class="t r" x="1275.7" y="754"><tspan><tspan class="b">Rank 2:</tspan> Personalization/</tspan><tspan x="1275.7" dy="7.7">attachment: necessary as</tspan><tspan x="1275.7" dy="7.7">a way to continually use</tspan><tspan x="1275.7" dy="7.7">the app, this is what</tspan><tspan x="1275.7" dy="7.7">makes the app unique,</tspan><tspan x="1275.7" dy="7.7">having a pet with good in-</tspan><tspan x="1275.7" dy="7.7">game customizable</tspan><tspan x="1275.7" dy="7.7">products (they have to be</tspan><tspan x="1275.7" dy="7.7">good tho)</tspan></text></g>
<g id="pe-2-4"><rect class="n lg" x="1353" y="742" width="77" height="77"/><text class="t r" x="1359.7" y="754"><tspan>Add personalization for the</tspan><tspan x="1359.7" dy="7.7">app background(themed),</tspan><tspan x="1359.7" dy="7.7">home buy furniture for the</tspan><tspan x="1359.7" dy="7.7">app etc. Different</tspan><tspan x="1359.7" dy="7.7">animation the pet could</tspan><tspan x="1359.7" dy="7.7">do, unlocking these.</tspan></text></g>

<!-- Other Nitty Gritty -->
<g id="nitty-header">
<text class="h" x="799" y="773" font-size="10.2">Other Nitty Gritty</text>
<text class="sb" x="857" y="800" font-size="8.3">The app seems logical and clear.</text>
</g>
<g id="ng-1"><rect class="n lp" x="799" y="782" width="43" height="43"/><text class="t q" x="802.3" y="787.5"><tspan>He feels like the app was</tspan><tspan x="802.3" dy="3.7">laid out in a logical way. He</tspan><tspan x="802.3" dy="3.7">could make sense what</tspan><tspan x="802.3" dy="3.7">the app was trying to do.</tspan></text></g>
</svg>
